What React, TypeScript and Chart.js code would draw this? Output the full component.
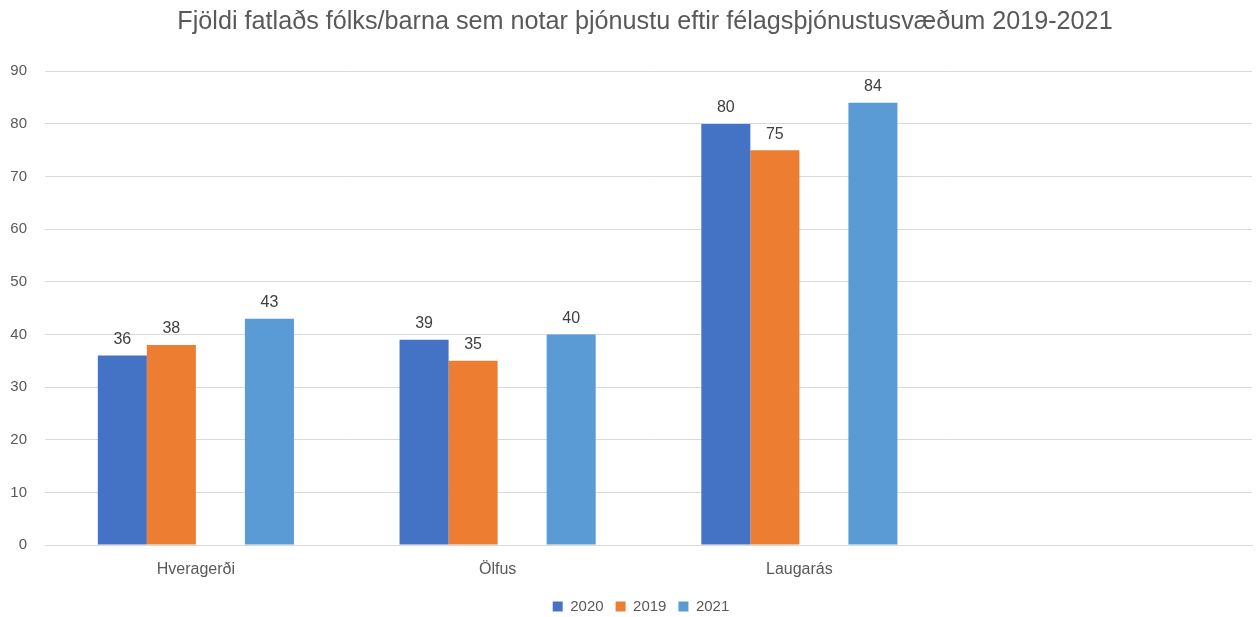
import React, { useEffect, useRef } from "react";
import { Chart, registerables } from "chart.js";

Chart.register(...registerables);

const TITLE = "Fjöldi fatlaðs fólks/barna sem notar þjónustu eftir félagsþjónustusvæðum 2019-2021";
const categories = ["Hveragerði", "Ölfus", "Laugarás", ""];
const series2020 = [36, 39, 80, null];
const series2019 = [38, 35, 75, null];
const spacer = [null, null, null, null];
const series2021 = [43, 40, 84, null];
const seriesLabels = ["2020", "2019", "", "2021"];
const seriesColors = ["#4472C4", "#ED7D31", "#FFFFFF", "#5B9BD5"];
const yTicks = [0, 10, 20, 30, 40, 50, 60, 70, 80, 90];

const FONT = "'Liberation Sans', Arial, sans-serif";

const valueLabels = {
  id: "valueLabels",
  afterDatasetsDraw(chart: any) {
    const ctx = chart.ctx;
    ctx.save();
    ctx.font = `16px ${FONT}`;
    ctx.fillStyle = "#404040";
    ctx.textAlign = "center";
    ctx.textBaseline = "bottom";
    chart.data.datasets.forEach((ds: any, i: number) => {
      const meta = chart.getDatasetMeta(i);
      if (meta.hidden) return;
      meta.data.forEach((el: any, j: number) => {
        const v = ds.data[j];
        if (v === null || v === undefined) return;
        ctx.fillText(String(v), el.x, el.y - 8);
      });
    });
    ctx.restore();
  },
};

// Centre title and legend a little to the right, like the reference.
const shiftBoxes = {
  id: "shiftBoxes",
  afterLayout(chart: any) {
    const t = chart.titleBlock;
    if (t) {
      t.left += 19;
      t.right += 19;
    }
    const l = chart.legend;
    if (l) {
      l.left += 15;
      l.right += 15;
    }
  },
};

export default function App() {
  const ref = useRef<HTMLCanvasElement>(null);
  useEffect(() => {
    const data = [series2020, series2019, spacer, series2021];
    const chart = new Chart(ref.current as HTMLCanvasElement, {
      type: "bar",
      data: {
        labels: categories,
        datasets: data.map((d, i) => ({
          label: seriesLabels[i],
          data: d,
          backgroundColor: seriesColors[i],
          borderWidth: 0,
          categoryPercentage: 0.65,
          barPercentage: 1.0,
        })),
      },
      options: {
        responsive: false,
        animation: false,
        layout: { padding: { left: 0, right: 4, top: 0, bottom: -7 } },
        plugins: {
          title: {
            display: true,
            text: TITLE,
            color: "#595959",
            font: { family: FONT, size: 25.2, weight: "normal" },
            padding: { top: 7, bottom: 34 },
          },
          legend: {
            position: "bottom",
            labels: {
              filter: (item: any) => item.text !== "",
              boxWidth: 10,
              boxHeight: 10,
              padding: 12,
              color: "#595959",
              font: { family: FONT, size: 15 },
            },
          },
          tooltip: { enabled: false },
        },
        scales: {
          x: {
            grid: { display: false, drawTicks: false },
            border: { display: true, color: "#D9D9D9", width: 1 },
            ticks: {
              color: "#595959",
              font: { family: FONT, size: 16 },
              padding: 15,
            },
            afterFit: (scale: any) => {
              scale.height = 42;
            },
          },
          y: {
            min: 0,
            max: 90,
            afterBuildTicks: (scale: any) => {
              scale.ticks = yTicks.map((v) => ({ value: v }));
            },
            grid: { color: "#D9D9D9", drawTicks: false },
            border: { display: false },
            ticks: {
              color: "#595959",
              font: { family: FONT, size: 15 },
              padding: 18,
            },
            afterFit: (scale: any) => {
              scale.width = 45;
            },
          },
        },
      },
      plugins: [valueLabels, shiftBoxes],
    });
    return () => chart.destroy();
  }, []);
  return (
    <div style={{ position: "absolute", left: 0, top: 0, width: 1256, height: 617, background: "#fff" }}>
      <canvas ref={ref} width={1256} height={617} />
    </div>
  );
}
